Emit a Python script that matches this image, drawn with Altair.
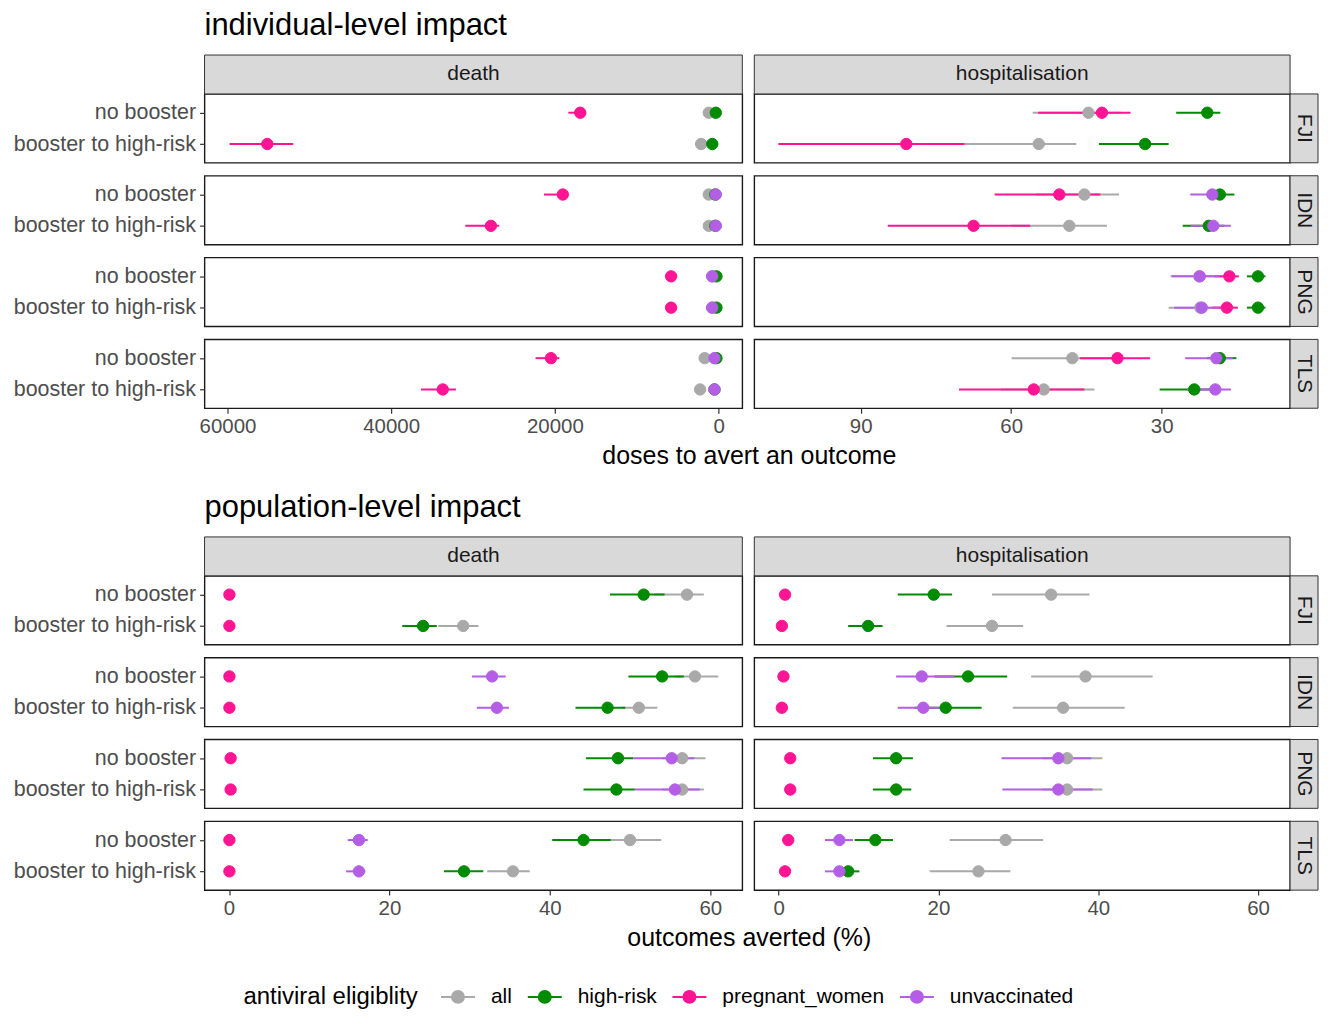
import altair as alt
import pandas as pd

countries = ["FJI", "IDN", "PNG", "TLS"]
scenarios = ["no booster", "booster to high-risk"]
groups = ["all", "high-risk", "pregnant_women", "unvaccinated"]
group_colors = ["#A9A9A9", "#008B00", "#FF1493", "#B45EE6"]
outcomes = ["death", "hospitalisation"]

# rows: FJI nb, FJI b, IDN nb, IDN b, PNG nb, PNG b, TLS nb, TLS b ; cols: groups
ind_death_mid = [[1200, 340, 16900, None], [2130, 770, 55130, None],
                 [1200, 400, 19030, 340], [1200, 400, 27820, 340],
                 [800, 260, 5800, 770], [800, 260, 5800, 770],
                 [1700, 260, 20480, 510], [2260, 500, 33700, 510]]
ind_death_lo = [[1000, 250, 16200, None], [1900, 650, 51970, None],
                [1000, 300, 18350, 250], [1000, 300, 26800, 250],
                [700, 200, 5600, 700], [700, 200, 5600, 700],
                [1500, 200, 19460, 450], [2000, 420, 32090, 450]]
ind_death_hi = [[1400, 450, 18350, None], [2400, 900, 59740, None],
                [1400, 500, 21330, 450], [1400, 500, 30940, 450],
                [900, 320, 6000, 850], [900, 320, 6000, 850],
                [1900, 320, 22360, 570], [2500, 580, 36350, 570]]

ind_hosp_mid = [[44.6, 20.9, 41.9, None], [54.5, 33.3, 80.9, None],
                [45.4, 18.4, 50.4, 19.9], [48.4, 20.6, 67.5, 19.7],
                [22.5, 10.8, 16.5, 22.4], [22.3, 10.8, 17.0, 22.0],
                [47.8, 18.4, 38.8, 19.1], [53.5, 23.5, 55.5, 19.3]]
ind_hosp_lo = [[38.0, 18.3, 36.2, None], [47.0, 28.6, 69.3, None],
               [38.5, 15.5, 42.2, 17.5], [40.9, 17.5, 56.2, 16.2],
               [18.0, 9.3, 14.6, 18.5], [18.0, 9.3, 14.8, 18.5],
               [40.0, 15.1, 32.3, 15.8], [43.4, 20.0, 45.4, 16.2]]
ind_hosp_hi = [[55.7, 27.1, 54.6, None], [72.0, 42.5, 106.4, None],
               [55.0, 21.0, 63.3, 24.3], [60.0, 25.8, 84.6, 24.2],
               [28.2, 13.0, 19.5, 28.0], [28.6, 13.0, 19.9, 27.5],
               [59.9, 21.0, 46.3, 25.3], [62.0, 30.4, 70.4, 24.9]]

pop_death_mid = [[57.1, 51.7, 0.05, None], [29.2, 24.2, 0.05, None],
                 [58.1, 54.0, 0.05, 32.8], [51.1, 47.2, 0.05, 33.4],
                 [56.5, 48.5, 0.2, 55.2], [56.5, 48.3, 0.2, 55.6],
                 [50.0, 44.2, 0.05, 16.2], [35.4, 29.3, 0.05, 16.2]]
pop_death_lo = [[53.0, 47.5, 0.03, None], [26.1, 21.6, 0.03, None],
                [55.5, 49.8, 0.03, 30.3], [49.0, 43.2, 0.03, 30.9],
                [54.0, 44.5, 0.15, 50.4], [54.0, 44.2, 0.15, 50.6],
                [47.0, 40.3, 0.03, 14.8], [32.2, 26.8, 0.03, 14.6]]
pop_death_hi = [[59.2, 54.3, 0.07, None], [31.1, 25.9, 0.07, None],
                [61.0, 56.7, 0.07, 34.5], [53.4, 49.4, 0.07, 34.9],
                [59.4, 50.4, 0.25, 58.0], [59.2, 50.6, 0.25, 58.7],
                [53.9, 47.6, 0.07, 17.3], [37.5, 31.7, 0.07, 17.0]]

pop_hosp_mid = [[34.1, 19.4, 0.8, None], [26.7, 11.2, 0.4, None],
                [38.4, 23.7, 0.6, 17.9], [35.6, 20.9, 0.4, 18.1],
                [36.1, 14.7, 1.45, 35.0], [36.1, 14.7, 1.45, 35.0],
                [28.4, 12.1, 1.2, 7.6], [25.0, 8.7, 0.8, 7.6]]
pop_hosp_lo = [[26.7, 14.9, 0.7, None], [21.0, 8.7, 0.3, None],
               [31.6, 19.5, 0.5, 14.7], [29.3, 17.0, 0.3, 14.9],
               [33.0, 11.8, 1.35, 27.9], [33.0, 11.8, 1.35, 28.0],
               [21.4, 9.5, 1.1, 5.8], [18.9, 7.8, 0.7, 5.8]]
pop_hosp_hi = [[38.9, 21.7, 0.9, None], [30.6, 13.0, 0.5, None],
               [46.8, 28.6, 0.7, 22.0], [43.3, 25.4, 0.5, 20.5],
               [40.5, 16.8, 1.55, 39.1], [40.5, 16.6, 1.55, 39.3],
               [33.1, 14.3, 1.3, 9.3], [29.0, 10.1, 0.9, 8.6]]

FONT = "Liberation Sans"
WIDTHS = [539, 537]
H = 69
GAP = 13
COL_GAP = 12
SECTION_GAP = 168
STRIP = 28


def make_df(mid, lo, hi):
    rows = []
    for r, (m_row, l_row, h_row) in enumerate(zip(mid, lo, hi)):
        c = countries[r // 2]
        s = scenarios[r % 2]
        for g, m, l, h in zip(groups, m_row, l_row, h_row):
            if m is None:
                continue
            rows.append(dict(country=c, scenario=s, group=g, mid=m, lo=l, hi=h))
    return pd.DataFrame(rows)


cscale = alt.Scale(domain=groups, range=group_colors)
legend_path = "M-1.7,0L1.7,0M-0.6,0A0.6,0.6,0,1,1,0.6,0A0.6,0.6,0,1,1,-0.6,0Z"
leg = alt.Legend(title="antiviral eligiblity", orient="none", legendX=39, legendY=165,
                 direction="horizontal", titleOrient="left", titleFontSize=24,
                 titleFont=FONT, titleFontWeight="normal", titleColor="black",
                 titleAnchor="middle", titleBaseline="middle",
                 titlePadding=29, labelFontSize=21, labelFont=FONT, labelColor="black",
                 labelLimit=400, symbolType=legend_path, symbolSize=400,
                 symbolStrokeWidth=2, columnPadding=11, labelOffset=22)


def text_layer(txt, x, y, size, color="black", angle=0, align="center"):
    return alt.Chart(pd.DataFrame({"t": [txt]})).mark_text(
        fontSize=size, font=FONT, color=color, angle=angle, align=align,
        baseline="middle").encode(x=alt.value(x), y=alt.value(y), text="t:N")


def rect_layer(x, x2, y, y2):
    return alt.Chart(pd.DataFrame({"t": [0]})).mark_rect(
        fill="#D9D9D9", stroke="#333333", strokeWidth=1).encode(
        x=alt.value(x), x2=alt.value(x2), y=alt.value(y), y2=alt.value(y2))


def panel(df, country, col, xdomain, reverse, xticks, sec_title, axis_title, with_legend):
    W = WIDTHS[col]
    d = df[df.country == country]
    first = country == countries[0]
    last = country == countries[-1]
    xs = alt.Scale(domain=xdomain, reverse=reverse, nice=False, zero=False)
    ys = alt.Scale(domain=scenarios, type="point", padding=0.6)
    if last:
        xaxis = alt.Axis(values=xticks, format="d", labelFontSize=20.5, labelColor="#4D4D4D",
                         labelFont=FONT, tickColor="#333333", tickSize=5, tickWidth=1.2,
                         labelPadding=3, domain=False, grid=False, labelFlush=False,
                         labelOverlap=False, title=None)
    else:
        xaxis = None
    if col == 0:
        yaxis = alt.Axis(labelFontSize=21.5, labelColor="#4D4D4D", labelFont=FONT,
                         tickColor="#333333", tickSize=5, tickWidth=1.2, labelPadding=4,
                         labelLimit=400, domain=False, grid=False, title=None)
    else:
        yaxis = None
    lg = leg if with_legend else None
    base = alt.Chart(d)
    rules = base.mark_rule(strokeWidth=2).encode(
        x=alt.X("lo:Q", scale=xs, axis=xaxis, title=None),
        x2="hi:Q",
        y=alt.Y("scenario:N", scale=ys, axis=yaxis, title=None),
        stroke=alt.Stroke("group:N", scale=cscale, legend=lg),
    )
    pts = base.mark_point(filled=True, size=130, strokeWidth=1, opacity=1).encode(
        x=alt.X("mid:Q", scale=xs, axis=xaxis, title=None),
        y=alt.Y("scenario:N", scale=ys, axis=yaxis, title=None),
        fill=alt.Fill("group:N", scale=cscale, legend=lg),
        stroke=alt.Stroke("group:N", scale=cscale, legend=lg),
    )
    layers = [rules, pts]
    if first:
        layers.append(rect_layer(0, W, -39, 0))
        layers.append(text_layer(outcomes[col], W / 2, -19.5, 21, color="#1A1A1A"))
        if col == 0:
            layers.append(text_layer(sec_title, 0, -68, 31, align="left"))
    if col == 1:
        layers.append(rect_layer(W, W + STRIP, 0, H))
        layers.append(text_layer(country, W + STRIP / 2, H / 2, 21, color="#1A1A1A", angle=90))
    if last and col == 0:
        layers.append(text_layer(axis_title, 546, H + 48, 25))
    return alt.layer(*layers).properties(width=W, height=H)


def spacer(col):
    return alt.Chart(pd.DataFrame({"t": [0]})).mark_point(opacity=0).encode(
        x=alt.value(0), y=alt.value(0)
    ).properties(width=WIDTHS[col], height=SECTION_GAP - 2 * GAP,
                 view=alt.ViewBackground(strokeOpacity=0))


def section_cells(df_d, df_h, dom_d, dom_h, rev, ticks_d, ticks_h, sec_title, axis_title,
                  legend_here):
    cells = []
    for c in countries:
        lg = legend_here and c == countries[-1]
        cells.append(panel(df_d, c, 0, dom_d, rev, ticks_d, sec_title, axis_title, lg))
        cells.append(panel(df_h, c, 1, dom_h, rev, ticks_h, sec_title, axis_title, False))
    return cells


cells1 = section_cells(make_df(ind_death_mid, ind_death_lo, ind_death_hi),
                       make_df(ind_hosp_mid, ind_hosp_lo, ind_hosp_hi),
                       [-2900, 62800], [4.4, 111.2], True,
                       [0, 20000, 40000, 60000], [30, 60, 90],
                       "individual-level impact", "doses to avert an outcome", False)
cells2 = section_cells(make_df(pop_death_mid, pop_death_lo, pop_death_hi),
                       make_df(pop_hosp_mid, pop_hosp_lo, pop_hosp_hi),
                       [-3.05, 64.0], [-3.05, 64.0], False,
                       [0, 20, 40, 60], [0, 20, 40, 60],
                       "population-level impact", "outcomes averted (%)", True)

all_cells = cells1 + [spacer(0), spacer(1)] + cells2

chart = alt.concat(*all_cells, columns=2, spacing={"row": GAP, "column": COL_GAP},
                   bounds="flush").resolve_legend(
    fill="independent", stroke="independent"
).properties(
    padding={"left": 4, "top": 0, "right": 0, "bottom": -2}
).configure(font=FONT).configure_view(stroke="#1A1A1A", strokeWidth=1.4)

chart.save("out.html", embed_options={"renderer": "svg", "actions": False})
